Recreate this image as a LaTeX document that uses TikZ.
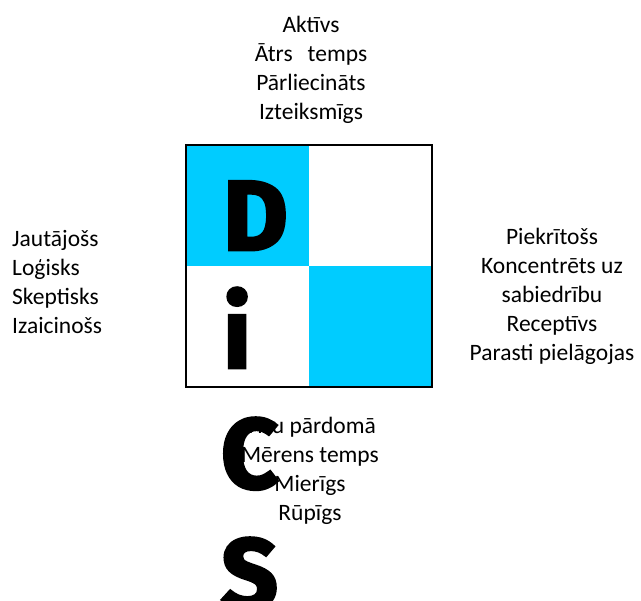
\documentclass[tikz,border=0pt]{standalone}
\usepackage{fontspec}
\setmainfont{Carlito}
\newfontfamily\heavyfont[BoldFeatures={FakeBold=3}]{Fira Sans}
\definecolor{discblue}{HTML}{00CCFF}

\begin{document}
\begin{tikzpicture}[
  x=1pt, y=-1pt,
  quad/.style={rectangle, minimum width=123pt, minimum height=121pt, inner sep=0pt, outer sep=0pt},
  trait/.style={font=\fontsize{23.5}{29}\selectfont, inner sep=0pt, anchor=base},
  letter/.style={font=\heavyfont\bfseries\fontsize{99}{99}\selectfont, inner sep=0pt, anchor=base west}
]
\useasboundingbox (0,0) rectangle (641,601);

% Quadrants
\node[quad, fill=discblue] (dquad) at (247.5,205.5) {};
\node[quad, fill=white] (equad) at (370.5,205.5) {};
\node[quad, fill=white] (iquad) at (247.5,326.5) {};
\node[quad, fill=discblue] (squad) at (370.5,326.5) {};
\draw[line width=2.5pt] (dquad.north west) rectangle (squad.south east);

% Traits (anchored on the last line)
\node[trait, align=center] (top) at (311,120) {Aktīvs\\Ātrs\hspace{15pt}temps\\Pārliecināts\\Izteiksmīgs};
\node[trait, align=left, anchor=base west] (left) at (12,334) {Jautājošs\\Loģisks\\Skeptisks\\Izaicinošs};
\node[trait, align=center] (right) at (552,361) {Piekrītošs\\Koncentrēts uz\\sabiedrību\\Receptīvs\\Parasti pielāgojas};
\node[trait, align=center] (bottom) at (310,521) {Visu pārdomā\\Mērens temps\\Mierīgs\\Rūpīgs};

% Letters
\node[letter] (dletter) at (223,250) {D};
\node[letter] (iletter) at (223,368) {i};
\node[letter] (cletter) at (221,488) {C};
\node[letter] (sletter) at (221,608) {S};

\end{tikzpicture}
\end{document}
